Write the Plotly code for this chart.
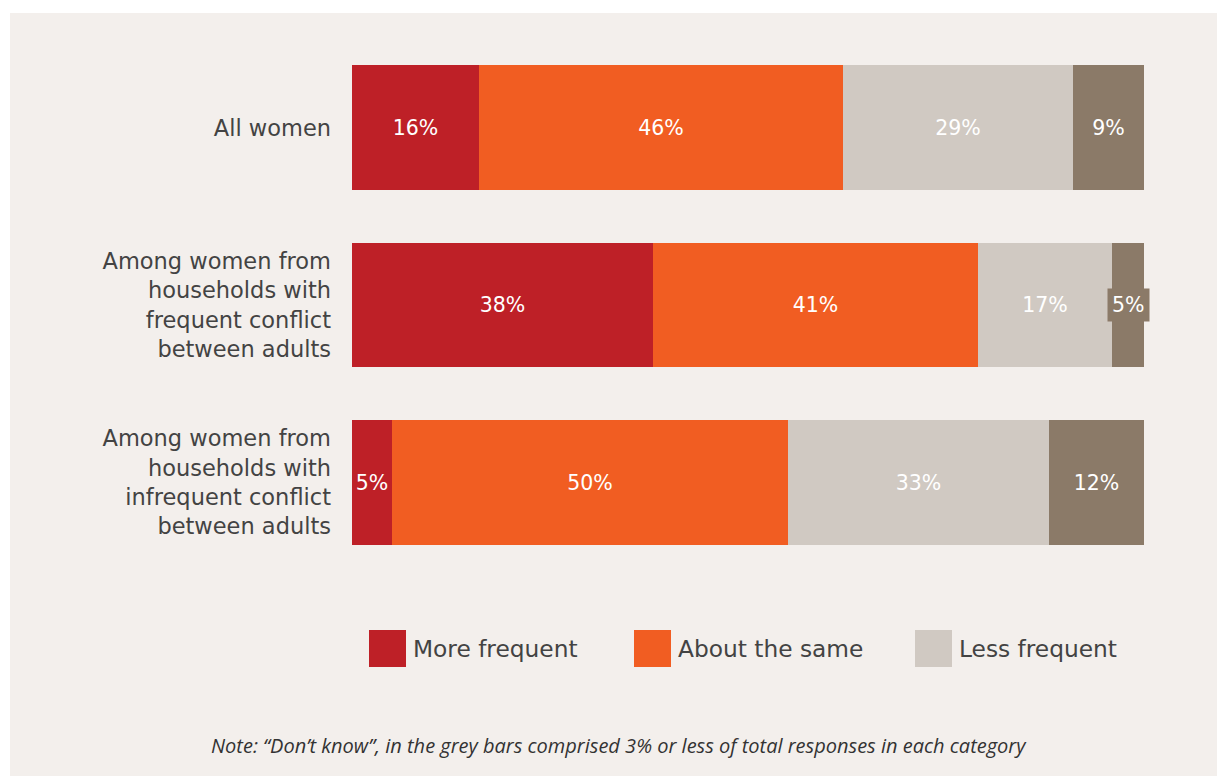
import plotly.graph_objects as go

# Survey groups (top to bottom) and tick labels
groups = ["All women", "Frequent conflict", "Infrequent conflict"]
group_labels = [
    "All women",
    "Among women from<br>households with<br>frequent conflict<br>between adults",
    "Among women from<br>households with<br>infrequent conflict<br>between adults",
]

# Share of responses (%) per answer
more_frequent = [16, 38, 5]
about_same = [46, 41, 50]
less_frequent = [29, 17, 33]
dont_know = [9, 5, 12]

series_names = ["More frequent", "About the same", "Less frequent", "Don't know"]
series_values = [more_frequent, about_same, less_frequent, dont_know]
colors = ["#BE2027", "#F15D22", "#D0C9C2", "#8B7A68"]
legend_series = ["More frequent", "About the same", "Less frequent"]

W, H = 1217, 776
M_L, M_R, M_T, M_B = 352, 73, 39, 205
PW, PH = W - M_L - M_R, H - M_T - M_B

FONT = "DejaVu Sans"
NOTE_FONT = "Open Sans"
TEXT_DARK = "#434343"
BG = "#F3EFEC"


def px_x(px):
    return (px - M_L) / PW


def px_y(py):
    return (H - M_B - py) / PH


fig = go.Figure()

for name, vals, col in zip(series_names, series_values, colors):
    # the narrow last segment of the second row gets a boxed label instead
    texts = []
    for g, v in zip(groups, vals):
        if name == "Don't know" and g == "Frequent conflict":
            texts.append("")
        else:
            texts.append(f"{v}%")
    fig.add_trace(go.Bar(
        y=groups, x=vals, orientation="h", name=name,
        marker=dict(color=col, line=dict(width=0)),
        text=texts, textposition="inside", insidetextanchor="middle",
        textangle=0,
        textfont=dict(family=FONT, size=20.5, color="white"),
        showlegend=False, width=0.704,
    ))

# boxed label for the thin "Don't know" segment of the second row
i = 1
start = more_frequent[i] + about_same[i] + less_frequent[i]
end = min(start + dont_know[i], 100)
fig.add_annotation(
    x=(start + end) / 2, y=groups[i], xref="x", yref="y",
    text=f"{dont_know[i]}%", showarrow=False,
    font=dict(family=FONT, size=20.5, color="white"),
    bgcolor=colors[3], borderpad=4,
)

shapes = [
    dict(type="rect", xref="paper", yref="paper",
         x0=px_x(10), x1=px_x(1217), y0=px_y(776), y1=px_y(13),
         fillcolor=BG, line=dict(width=0), layer="below"),
]

# legend: square swatches with labels
legend_x = [369, 634, 915]
for name, lx in zip(legend_series, legend_x):
    col = colors[series_names.index(name)]
    shapes.append(dict(type="rect", xref="paper", yref="paper",
                       x0=px_x(lx), x1=px_x(lx + 37),
                       y0=px_y(667), y1=px_y(630),
                       fillcolor=col, line=dict(width=0)))
    fig.add_annotation(x=px_x(lx + 42), y=px_y(648), xref="paper", yref="paper",
                       text=name, showarrow=False, xanchor="left", yanchor="middle",
                       font=dict(family=FONT, size=23.3, color=TEXT_DARK))

fig.add_annotation(
    x=px_x(619), y=px_y(745), xref="paper", yref="paper",
    text="<i>Note: “Don’t know”, in the grey bars comprised 3% or less of total responses in each category</i>",
    showarrow=False, xanchor="center", yanchor="middle",
    font=dict(family=NOTE_FONT, size=20, color="#333333"),
)

fig.update_layout(
    width=W, height=H, barmode="stack",
    margin=dict(l=M_L, r=M_R, t=M_T, b=M_B, autoexpand=False),
    paper_bgcolor="white", plot_bgcolor="rgba(0,0,0,0)",
    shapes=shapes, bargap=0,
    xaxis=dict(range=[0, 100], visible=False, fixedrange=True),
    yaxis=dict(
        categoryorder="array", categoryarray=groups,
        range=[2.5, -0.5], tickmode="array", tickvals=groups, ticktext=group_labels,
        showgrid=False, zeroline=False, showline=False, ticks="",
        ticklabelstandoff=20,
        tickfont=dict(family=FONT, size=22.5, color=TEXT_DARK),
    ),
    font=dict(family=FONT),
)

fig.write_html("out.html")
